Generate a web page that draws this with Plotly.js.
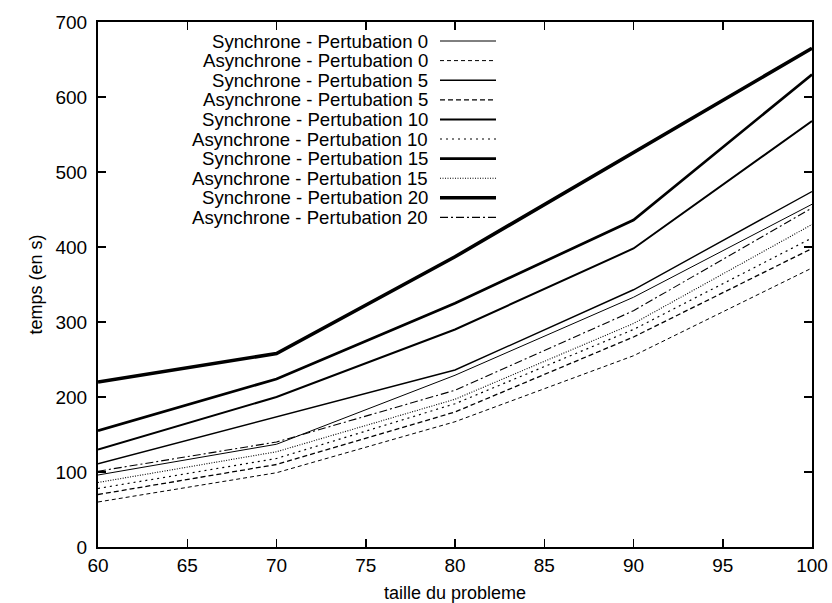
<!DOCTYPE html>
<html>
<head>
<meta charset="utf-8">
<script src="https://cdn.plot.ly/plotly-3.0.1.min.js"></script>
<style>html,body{margin:0;padding:0;background:#fff;}#chart{width:832px;height:603px;}</style>
</head>
<body>
<div id="chart"></div>
<script>
const sizes = [60, 70, 80, 90, 100];
const seriesNames = [
  "Synchrone - Pertubation 0", "Asynchrone - Pertubation 0",
  "Synchrone - Pertubation 5", "Asynchrone - Pertubation 5",
  "Synchrone - Pertubation 10", "Asynchrone - Pertubation 10",
  "Synchrone - Pertubation 15", "Asynchrone - Pertubation 15",
  "Synchrone - Pertubation 20", "Asynchrone - Pertubation 20"
];
const sync0  = [96, 137, 229, 333, 457];
const async0 = [60, 99, 167, 255, 372];
const sync5  = [111, 174, 236, 343, 474];
const async5 = [70, 110, 180, 280, 398];
const sync10 = [130, 200, 290, 398, 568];
const async10 = [78, 118, 191, 290, 412];
const sync15 = [155, 224, 325, 436, 630];
const async15 = [86, 127, 197, 298, 430];
const sync20 = [220, 258, 387, 526, 665];
const async20 = [101, 140, 209, 315, 452];
const yTicks = [0, 100, 200, 300, 400, 500, 600, 700];
const xTicks = [60, 65, 70, 75, 80, 85, 90, 95, 100];

const allValues = [sync0, async0, sync5, async5, sync10, async10, sync15, async15, sync20, async20];
const styles = [
  {width: 1, dash: 'solid'},
  {width: 1, dash: '4px,3px'},
  {width: 1.4, dash: 'solid'},
  {width: 1.3, dash: '5px,3px'},
  {width: 2, dash: 'solid'},
  {width: 1.2, dash: '2px,4px'},
  {width: 2.7, dash: 'solid'},
  {width: 1.1, dash: '1px,1.5px'},
  {width: 3.6, dash: 'solid'},
  {width: 1.1, dash: '8px,3px,2px,3px'}
];

const traces = allValues.map((v, i) => ({
  x: sizes, y: v, type: 'scatter', mode: 'lines', name: seriesNames[i],
  line: {color: '#000', width: styles[i].width, dash: styles[i].dash},
  showlegend: false, hoverinfo: 'skip'
}));

// Manual gnuplot-style legend (text then line sample)
const L = 98, R = 812, T = 22, B = 547;
const px = v => (v - L) / (R - L);
const py = v => (B - v) / (B - T);
const annotations = [];
const shapes = [];
seriesNames.forEach((n, i) => {
  const yy = 41 + 19.6 * i;
  annotations.push({
    xref: 'paper', yref: 'paper', x: px(429), y: py(yy), xanchor: 'right', yanchor: 'middle',
    borderpad: 0,
    text: n, showarrow: false, font: {family: 'Liberation Sans, Arial, sans-serif', size: 18.6, color: '#000'}
  });
  shapes.push({
    type: 'line', xref: 'paper', yref: 'paper', x0: px(440), x1: px(496), y0: py(yy), y1: py(yy),
    line: {color: '#000', width: styles[i].width, dash: styles[i].dash}
  });
});

const axisFont = {family: 'Liberation Sans, Arial, sans-serif', size: 19, color: '#000'};
const titleFont = {family: 'Liberation Sans, Arial, sans-serif', size: 18, color: '#000'};
const layout = {
  width: 832, height: 603,
  margin: {l: 98, r: 20, t: 22, b: 56, pad: 0},
  paper_bgcolor: '#fff', plot_bgcolor: '#fff',
  showlegend: false,
  xaxis: {
    range: [60, 100], tickvals: xTicks, ticktext: xTicks.map(String),
    ticks: 'inside', ticklen: 8, tickwidth: 1.5, tickcolor: '#000',
    showline: true, linecolor: '#000', linewidth: 2, mirror: 'allticks',
    showgrid: false, zeroline: false, tickfont: axisFont,
    title: {text: 'taille du probleme', font: titleFont, standoff: 12}
  },
  yaxis: {
    range: [0, 700], tickvals: yTicks, ticktext: yTicks.map(String),
    ticks: 'inside', ticklen: 8, tickwidth: 1.5, tickcolor: '#000',
    showline: true, linecolor: '#000', linewidth: 2, mirror: 'allticks',
    showgrid: false, zeroline: false, tickfont: axisFont, ticklabelstandoff: 5,
    title: {text: 'temps (en s)', font: titleFont, standoff: 8}
  },
  annotations: annotations,
  shapes: shapes
};

Plotly.newPlot('chart', traces, layout, {displayModeBar: false, staticPlot: true});
</script>
</body>
</html>
